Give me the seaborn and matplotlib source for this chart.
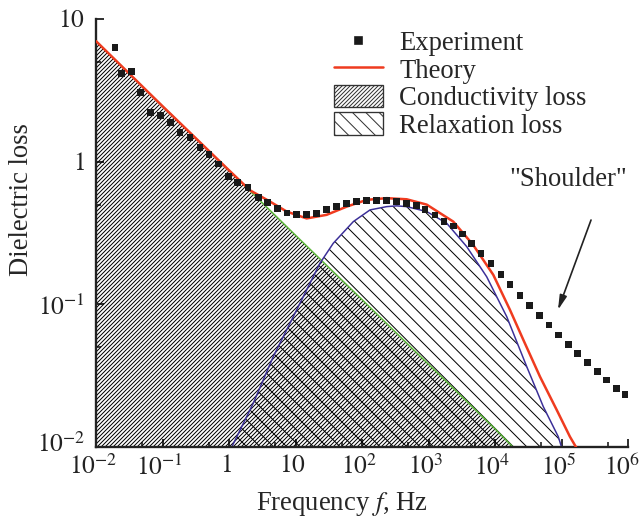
import matplotlib
matplotlib.use("Agg")
import matplotlib.pyplot as plt
import matplotlib.transforms as mtransforms
import seaborn as sns
from matplotlib.ticker import FixedLocator, FixedFormatter, NullFormatter
from matplotlib.patches import Patch
from matplotlib.lines import Line2D

# ---------------- data ----------------
exp_freq = [0.0193, 0.0243, 0.0344, 0.0470, 0.0665, 0.0940, 0.133, 0.183, 0.259, 0.366,
            0.500, 0.700, 0.989, 1.35, 1.93, 2.76, 3.82, 5.40, 7.45, 10.4,
            14.7, 20.8, 29.4, 41.7, 58.9, 83.2, 118, 166, 235, 333,
            470, 665, 886, 1250, 1710, 2360, 3220, 4460, 6150, 8710,
            12300, 16800, 23800, 32800, 46400, 64900, 89500, 126000, 175000, 244000,
            345000, 479000, 676000, 902000]
exp_loss = [6.29, 4.16, 4.27, 3.06, 2.20, 2.12, 1.88, 1.60, 1.47, 1.25,
            1.13, 0.964, 0.785, 0.713, 0.658, 0.560, 0.516, 0.471, 0.437, 0.428,
            0.428, 0.435, 0.459, 0.484, 0.511, 0.525, 0.531, 0.533, 0.533, 0.525,
            0.511, 0.490, 0.459, 0.423, 0.380, 0.354, 0.311, 0.268, 0.228, 0.192,
            0.161, 0.137, 0.116, 0.0975, 0.0839, 0.0717, 0.0610, 0.0525, 0.0454, 0.0390,
            0.0338, 0.0295, 0.0258, 0.0232]

theory_freq = [0.01, 0.1, 1.0, 2.07, 4.14, 7.38, 14.7, 29.4, 58.9, 118,
               235, 470, 940, 2360, 4720, 9420, 16800, 26700, 47500, 84700,
               134000, 165000, 190000]
theory_loss = [7.0, 2.45, 0.87, 0.63, 0.525, 0.447, 0.400, 0.424, 0.484, 0.540,
               0.555, 0.545, 0.500, 0.380, 0.260, 0.161, 0.0914, 0.0563, 0.0311, 0.0182,
               0.0118, 0.0100, 0.0088]

cond_freq = [0.01, 0.1, 1.0, 10, 100, 1000, 10000, 18600]
cond_loss = [7.0, 2.45, 0.87, 0.305, 0.108, 0.038, 0.0134, 0.0100]

relax_freq = [1.1, 2.32, 4.63, 9.27, 23.3, 37, 74, 132, 235, 333,
              470, 940, 1880, 3750, 7500, 15000, 30000, 53200, 89500, 100000]
relax_loss = [0.0100, 0.0203, 0.043, 0.082, 0.194, 0.268, 0.380, 0.459, 0.484, 0.490,
              0.484, 0.447, 0.370, 0.254, 0.156, 0.082, 0.0366, 0.0192, 0.0118, 0.0100]

x_ticks = [1e-2, 1e-1, 1, 10, 1e2, 1e3, 1e4, 1e5, 1e6]
x_tick_labels = [r"$10^{-2}$", r"$10^{-1}$", r"$1$", r"$10$", r"$10^{2}$",
                 r"$10^{3}$", r"$10^{4}$", r"$10^{5}$", r"$10^{6}$"]
x_minor = [5e-2, 5e-1, 5, 50, 5e2, 5e3, 5e4, 5e5]
y_ticks = [1e-2, 1e-1, 1, 10]
y_tick_labels = [r"$10^{-2}$", r"$10^{-1}$", r"$1$", r"$10$"]
y_minor = [5e-2, 5e-1, 5]

legend_labels = ["Experiment", "Theory", "Conductivity loss", "Relaxation loss"]

# ---------------- style ----------------
sns.set_theme(style="ticks")
plt.rcParams.update({
    "font.family": ["Liberation Serif", "DejaVu Serif"],
    "mathtext.fontset": "stix",
    "hatch.linewidth": 0.6,
    "axes.linewidth": 1.4,
    "axes.edgecolor": "#222222",
    "xtick.direction": "in",
    "ytick.direction": "in",
    "xtick.color": "#222222",
    "ytick.color": "#222222",
})

FS = 16
TFS = 15.2
DPI = 120
COND_HATCH = "/" * 10
RELAX_HATCH = "\\" * 3

fig = plt.figure(figsize=(644 / DPI, 521 / DPI), dpi=DPI)
ax = fig.add_axes([96 / 644, (521 - 447) / 521, 532 / 644, 428 / 521])

GREEN = "#5cb83a"
BLUE = "#3b2f98"
RED = "#ef3b1f"

# hatched areas
ax.fill_between(cond_freq, cond_loss, 1e-2, facecolor="none", edgecolor="black",
                hatch=COND_HATCH, linewidth=0, zorder=1)
ax.fill_between(relax_freq, relax_loss, 1e-2, facecolor="none", edgecolor="black",
                hatch=RELAX_HATCH, linewidth=0, zorder=1)

sns.lineplot(x=cond_freq, y=cond_loss, ax=ax, color=GREEN, linewidth=0.9, zorder=2)
sns.lineplot(x=relax_freq, y=relax_loss, ax=ax, color=BLUE, linewidth=0.9, zorder=2)
sns.lineplot(x=theory_freq, y=theory_loss, ax=ax, color=RED, linewidth=1.5, zorder=3)
sns.scatterplot(x=exp_freq, y=exp_loss, ax=ax, marker="s", s=17, color="#1a1a1a",
                edgecolor="none", linewidth=0, zorder=4)

ax.set_xscale("log")
ax.set_yscale("log")
ax.set_xlim(1e-2, 1e6)
ax.set_ylim(1e-2, 10)

ax.xaxis.set_major_locator(FixedLocator(x_ticks))
ax.xaxis.set_major_formatter(FixedFormatter(x_tick_labels))
ax.xaxis.set_minor_locator(FixedLocator(x_minor))
ax.xaxis.set_minor_formatter(NullFormatter())
ax.yaxis.set_major_locator(FixedLocator(y_ticks))
ax.yaxis.set_major_formatter(FixedFormatter(y_tick_labels))
ax.yaxis.set_minor_locator(FixedLocator(y_minor))
ax.yaxis.set_minor_formatter(NullFormatter())

ax.tick_params(which="major", length=4.8, width=1.1, labelsize=TFS)
ax.tick_params(which="minor", length=3.0, width=1.0)
ax.tick_params(axis="x", which="major", pad=4.5)
ax.tick_params(axis="y", which="major", pad=6.5)
sns.despine(ax=ax)

# center x tick labels on the base "10" (shift slightly left), keep the last inside
xlabels = ax.get_xticklabels()
for i, lbl in enumerate(xlabels):
    dx = -6 if i == len(xlabels) - 1 else -3
    lbl.set_transform(lbl.get_transform() +
                      mtransforms.ScaledTranslation(dx / DPI, 0, fig.dpi_scale_trans))
# lift the lowest y label a little so it does not collide with the first x label
ylabels = ax.get_yticklabels()
ylabels[0].set_transform(ylabels[0].get_transform() +
                         mtransforms.ScaledTranslation(0, 5 / DPI, fig.dpi_scale_trans))

ax.set_xlabel(r"Frequency $f$, Hz", fontsize=FS)
ax.set_ylabel("Dielectric loss", fontsize=FS)
ax.xaxis.set_label_coords(0.462, -0.100)
ax.yaxis.set_label_coords(-0.1165, 0.577)

# annotation
ax.text(1.25e5, 0.745, '"Shoulder"', fontsize=FS, ha="center", va="center")
ax.annotate("", xy=(88500, 0.0914), xytext=(278000, 0.39),
            arrowprops=dict(arrowstyle="-|>,head_length=0.6,head_width=0.15",
                            mutation_scale=12, color="#222222", lw=1.0,
                            shrinkA=0, shrinkB=0))

# legend
handles = [
    Line2D([], [], linestyle="none", marker="s", markersize=4.2, color="#1a1a1a"),
    Line2D([], [], color=RED, linewidth=1.5),
    Patch(facecolor="white", edgecolor="#333333", hatch=COND_HATCH, linewidth=0.8),
    Patch(facecolor="white", edgecolor="#333333", hatch=RELAX_HATCH, linewidth=0.8),
]
ax.legend(handles, legend_labels, loc="upper left", bbox_to_anchor=(0.447, 0.975),
          frameon=False, fontsize=FS, borderpad=0, borderaxespad=0,
          handlelength=1.85, handleheight=0.9, handletextpad=0.6, labelspacing=0.05)

fig.savefig("out.png", dpi=DPI)
